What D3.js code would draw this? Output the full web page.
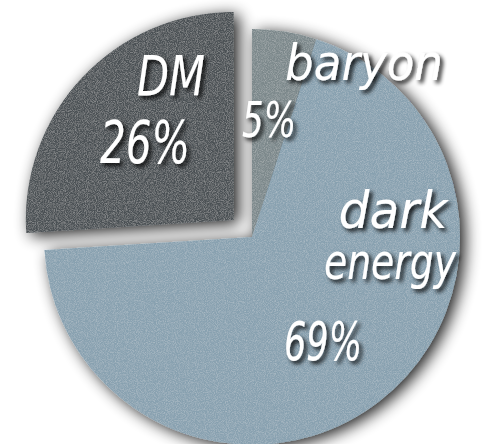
<!DOCTYPE html>
<html><head><meta charset="utf-8">
<script src="https://cdn.jsdelivr.net/npm/d3@7"></script>
<style>
html,body{margin:0;padding:0;background:#fff;}
svg{display:block;}
text{font-family:"DejaVu Sans",sans-serif;font-style:italic;fill:#fff;}
</style></head>
<body>
<svg id="chart" width="490" height="444"></svg>
<script>
// ---- data ----
const categories = ["baryon", "dark energy", "DM"];
const values = [5, 69, 26];
const percentLabels = ["5%", "69%", "26%"];
const colors = ["#7b888b", "#88a1b0", "#4b5155"];
const exploded = [0, 0, 1];

// ---- layout ----
const W = 490, H = 444;
const cx = 252, cy = 237, R = 208, explodeDist = 25;
const svg = d3.select("#chart");
const defs = svg.append("defs");

// shadow + paper texture filter
const f = defs.append("filter").attr("id", "paper")
  .attr("x", "-20%").attr("y", "-20%").attr("width", "140%").attr("height", "140%");
f.append("feGaussianBlur").attr("in", "SourceAlpha").attr("stdDeviation", 8).attr("result", "blur");
f.append("feOffset").attr("in", "blur").attr("dx", 5).attr("dy", 3).attr("result", "off");
f.append("feComponentTransfer").attr("in", "off").attr("result", "shadow")
  .append("feFuncA").attr("type", "linear").attr("slope", 0.9);
f.append("feTurbulence").attr("type", "fractalNoise").attr("baseFrequency", 1.1)
  .attr("numOctaves", 1).attr("seed", 4).attr("result", "noise");
f.append("feColorMatrix").attr("in", "noise").attr("type", "matrix")
  .attr("values", "0 0 0 0 1  0 0 0 0 1  0 0 0 0 1  0.5 0 0 0 -0.2").attr("result", "speck");
f.append("feComposite").attr("in", "speck").attr("in2", "SourceGraphic").attr("operator", "in").attr("result", "speckIn");
const m = f.append("feMerge");
m.append("feMergeNode").attr("in", "shadow");
m.append("feMergeNode").attr("in", "SourceGraphic");
m.append("feMergeNode").attr("in", "speckIn");

// text shadow
const tf = defs.append("filter").attr("id", "tshadow")
  .attr("x", "-20%").attr("y", "-30%").attr("width", "150%").attr("height", "170%");
tf.append("feGaussianBlur").attr("in", "SourceAlpha").attr("stdDeviation", 2).attr("result", "b");
tf.append("feOffset").attr("in", "b").attr("dx", 3).attr("dy", 3).attr("result", "o");
tf.append("feComponentTransfer").attr("in", "o").attr("result", "s")
  .append("feFuncA").attr("type", "linear").attr("slope", 0.9);
const tm = tf.append("feMerge");
tm.append("feMergeNode").attr("in", "s");
tm.append("feMergeNode").attr("in", "SourceGraphic");

const pie = d3.pie().sort(null).value(d => d)(values);
const arc = d3.arc().innerRadius(0).outerRadius(R);

const g = svg.append("g").attr("transform", `translate(${cx},${cy})`).attr("filter", "url(#paper)");
g.selectAll("path").data(pie).join("path")
  .attr("d", arc)
  .attr("fill", (d, i) => colors[i])
  .attr("transform", (d, i) => {
    if (!exploded[i]) return null;
    const a = (d.startAngle + d.endAngle) / 2;
    return `translate(${Math.sin(a) * explodeDist},${-Math.cos(a) * explodeDist})`;
  });

// labels: lines per slice with offsets relative to pie centre
const labelLines = [
  [{t: "baryon", x: 112, y: -157, w: 158, s: 50}, {t: percentLabels[0], x: 17, y: -100, w: 54, s: 50}],
  [{t: "dark", x: 141, y: -9, w: 109, s: 52}, {t: "energy", x: 138, y: 42, w: 132, s: 50}, {t: percentLabels[1], x: 71, y: 123, w: 78, s: 54}],
  [{t: categories[2], x: -81, y: -142, w: 68, s: 56}, {t: percentLabels[2], x: -107, y: -74, w: 90, s: 58}]
];
const lg = svg.append("g").attr("transform", `translate(${cx},${cy})`).attr("filter", "url(#tshadow)");
labelLines.forEach(lines => lines.forEach(l => {
  lg.append("text").attr("x", l.x).attr("y", l.y)
    .attr("text-anchor", "middle")
    .attr("font-size", l.s)
    .attr("textLength", l.w).attr("lengthAdjust", "spacingAndGlyphs")
    .text(l.t);
}));
</script>
</body></html>
